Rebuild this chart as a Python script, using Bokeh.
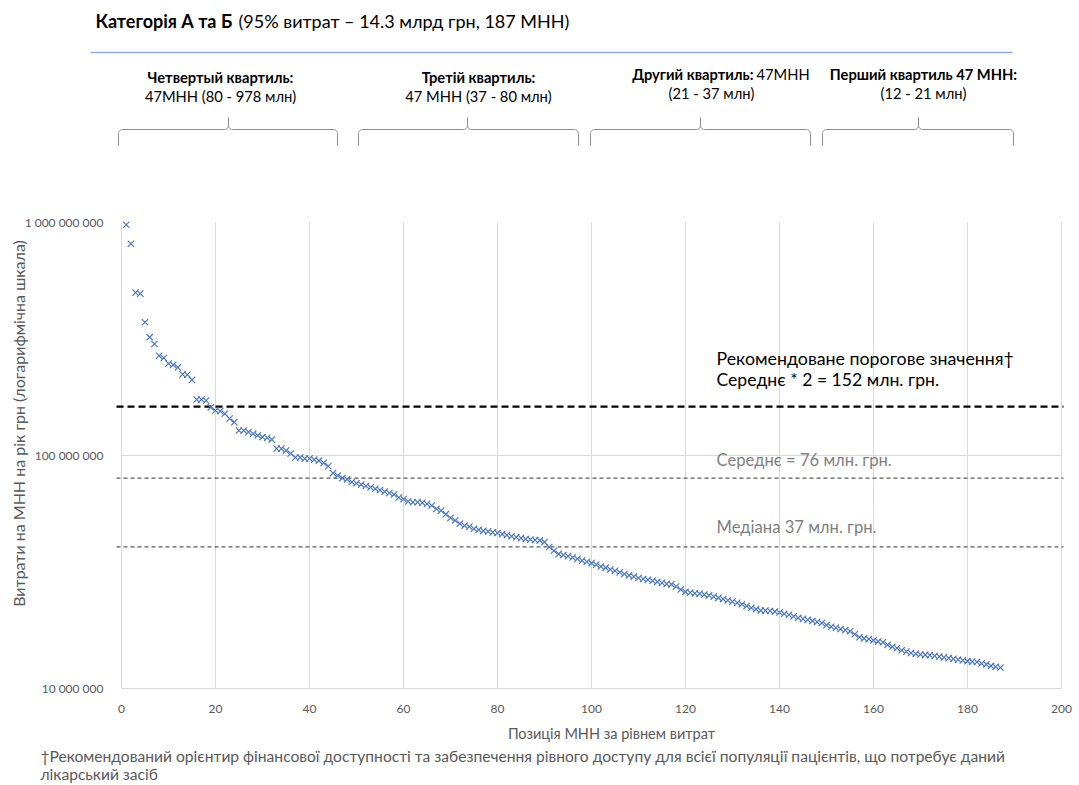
import numpy as np
from bokeh.plotting import figure
from bokeh.models import FixedTicker, CustomJSTickFormatter, Range1d
from bokeh.core.properties import value
from bokeh.embed import file_html
from bokeh.resources import INLINE

# ---------------- data ----------------
costs_mln = [
    978, 811, 500, 495, 373, 322, 301, 268, 262, 248,
    245, 239, 223, 222, 211, 174, 174, 172, 161, 156,
    155, 151, 144, 139, 128, 128, 126, 124, 122, 120,
    119, 117, 107, 107, 105, 102, 98, 98, 97, 97,
    96, 95, 93, 90, 84, 82, 80, 79, 77, 76,
    75, 74, 73, 72, 71, 70, 69, 68, 66, 65,
    63.5, 63, 63, 62.7, 62, 61, 59, 58, 56, 54,
    52.6, 51, 50, 49.5, 48.5, 48, 47.5, 47.2, 46.8, 46.5,
    46, 45.5, 45, 44.6, 44.2, 43.8, 43.6, 43.4, 43.2, 42.5,
    40.5, 39, 37.8, 37.4, 37, 36.5, 36, 35.4, 35, 34.5,
    34, 33.4, 33, 32.4, 32, 31.5, 31, 30.6, 30.2, 29.8,
    29.5, 29.3, 29, 28.7, 28.4, 28.1, 28, 27.4, 26.6, 26,
    25.8, 25.6, 25.5, 25.3, 25.1, 24.8, 24.5, 24.2, 23.9, 23.6,
    23.3, 23, 22.6, 22.2, 21.9, 21.6, 21.6, 21.5, 21.4, 21.2,
    20.9, 20.7, 20.4, 20.1, 19.9, 19.7, 19.5, 19.3, 19.1, 18.7,
    18.4, 18.2, 18, 17.8, 17.6, 17.1, 16.6, 16.4, 16.3, 16.1,
    15.9, 15.8, 15.4, 15.1, 14.9, 14.6, 14.4, 14.2, 14.1, 14,
    13.95, 13.9, 13.8, 13.7, 13.6, 13.5, 13.4, 13.3, 13.2, 13.1,
    13.05, 13, 12.8, 12.7, 12.5, 12.4, 12.3,
]
positions = list(range(1, len(costs_mln) + 1))

# reference lines (where the picture draws them, million UAH)
threshold_line_mln = 162
mean_line_mln = 80
median_line_mln = 40.5

x_ticks = [0, 20, 40, 60, 80, 100, 120, 140, 160, 180, 200]
y_ticks = [1e7, 1e8, 1e9]
x_min, x_max = 0, 200
y_min, y_max = 1e7, 1e9

title_bold = "Категорія А та Б"
title_rest = "(95% витрат – 14.3 млрд грн, 187 МНН)"
quart_bold = ["Четвертый квартиль:", "Третій квартиль:", "Другий квартиль:", "Перший квартиль 47 МНН:"]
quart_line2 = ["47МНН (80 - 978 млн)", "47 МНН (37 - 80 млн)", "(21 - 37 млн)", "(12 - 21 млн)"]
q2_rest = "47МНН"

FONT = "Lato"
GRAY = "#595959"
BLUE = "#4472C4"

# ---------------- geometry (page pixels -> data) ----------------
W, H = 1078, 784
PLOT_L, PLOT_R, PLOT_T, PLOT_B = 121, 1061, 222, 688
px_per_x = (PLOT_R - PLOT_L) / (x_max - x_min)
px_per_dec = (PLOT_B - PLOT_T) / np.log10(y_max / y_min)


def X(px):
    return x_min + (px - PLOT_L) / px_per_x


def Y(py):
    return 10 ** (np.log10(y_max) - (py - PLOT_T) / px_per_dec)


p = figure(width=W, height=H, x_range=Range1d(X(0), X(W)), y_range=Range1d(Y(H), Y(0)),
           y_axis_type="log", toolbar_location=None, output_backend="svg", min_border=0)
p.outline_line_color = None
p.grid.visible = False

# axes drawn at the edges of the data area
p.xaxis.fixed_location = y_min
p.yaxis.fixed_location = x_min
p.xaxis.bounds = (x_min, x_max)
p.yaxis.bounds = (y_min, y_max)
p.xaxis.ticker = FixedTicker(ticks=x_ticks)
p.yaxis.ticker = FixedTicker(ticks=y_ticks)
p.yaxis.formatter = CustomJSTickFormatter(
    code="return Math.round(tick).toString().replace(/\\B(?=(\\d{3})+(?!\\d))/g, ' ');")
for ax in (p.xaxis[0], p.yaxis[0]):
    ax.major_tick_line_color = None
    ax.minor_tick_line_color = None
    ax.major_label_text_font = FONT
    ax.major_label_text_font_size = "12px"
    ax.major_label_text_color = GRAY
p.xaxis.axis_line_color = "#D9D9D9"
p.yaxis.axis_line_color = None
p.xaxis.major_label_standoff = 10
p.yaxis.major_label_standoff = 12

# gridlines
p.segment(x0=x_ticks, x1=x_ticks, y0=[y_min] * len(x_ticks), y1=[y_max] * len(x_ticks),
          line_color="#D9D9D9", line_width=1)
p.segment(x0=[x_min], x1=[x_max], y0=[1e8], y1=[1e8], line_color="#D9D9D9", line_width=1)

# reference lines
p.segment(x0=[X(116)], x1=[X(1063)], y0=[threshold_line_mln * 1e6], y1=[threshold_line_mln * 1e6],
          line_color="#000000", line_width=2.3, line_dash="7 4")
p.segment(x0=[X(116), X(116)], x1=[X(1063), X(1063)],
          y0=[mean_line_mln * 1e6, median_line_mln * 1e6], y1=[mean_line_mln * 1e6, median_line_mln * 1e6],
          line_color=GRAY, line_width=1.3, line_dash="4 3")

cost_values = [c * 1e6 for c in costs_mln]
p.scatter(x=positions, y=cost_values, marker="x", size=9, line_color=BLUE, line_width=1.1)


def label(px, py, text, size, color="#000000", style="normal", align="left", angle=0.0):
    p.text(x=[X(px)], y=[Y(py)], text=[text], text_font=value(FONT), text_font_size=size,
           text_font_style=style, text_color=color, text_align=align,
           text_baseline="middle", angle=angle)


# annotations inside the chart
label(716, 357, "Рекомендоване порогове значення†", "17.8px")
label(716, 379, "Середнє * 2 = 152 млн. грн.", "17.6px")
label(716, 459, "Середнє = 76 млн. грн.", "16.6px", color="#7F7F7F")
label(716, 526, "Медіана 37 млн. грн.", "16.6px", color="#7F7F7F")

# axis titles
label(18, 423, "Витрати на МНН на рік грн (логарифмічна шкала)", "16px", color=GRAY,
      align="center", angle=np.pi / 2)
label(611, 733, "Позиція МНН за рівнем витрат", "14.5px", color=GRAY, align="center")

# footnote
label(40, 755, "†Рекомендований орієнтир фінансової доступності та забезпечення рівного доступу "
               "для всієї популяції пацієнтів, що потребує даний", "15.6px", color=GRAY)
label(40, 773, "лікарський засіб", "15.6px", color=GRAY)

# title block
label(95, 20, title_bold, "18px", style="bold")
label(238, 20, title_rest, "18px")
p.line(x=[X(90), X(1012)], y=[Y(52), Y(52)], line_color="#8FAADC", line_width=1.5)

q_cx = [220, 478, 711, 923]
q_y1 = [76, 76, 73, 73]
q_y2 = [95, 95, 92, 92]
for i, (cx, y1, y2, b, l2) in enumerate(zip(q_cx, q_y1, q_y2, quart_bold, quart_line2)):
    if i == 2:
        label(753, y1, b, "14.7px", style="bold", align="right")
        label(756, y1, q2_rest, "14.7px")
    else:
        label(cx, y1, b, "14.7px", style="bold", align="center")
    label(cx, y2, l2, "14.7px", align="center")


def brace_path(x0, x1, xm, ytop=117, ymid=129, ybot=145, r=4):
    xs, ys = [x0, x0], [ybot, ymid + r]
    t = np.linspace(np.pi, np.pi / 2, 8)
    xs += list(x0 + r + r * np.cos(t)); ys += list(ymid + r - r * np.sin(t))
    t = np.linspace(-np.pi / 2, 0, 8)
    xs += list(xm - r + r * np.cos(t)); ys += list(ymid - r - r * np.sin(t))
    xs += [xm]; ys += [ytop]
    t = np.linspace(-np.pi, -np.pi / 2, 8)
    xs += list(xm + r + r * np.cos(t)); ys += list(ymid - r - r * np.sin(t))
    t = np.linspace(np.pi / 2, 0, 8)
    xs += list(x1 - r + r * np.cos(t)); ys += list(ymid + r - r * np.sin(t))
    xs += [x1]; ys += [ybot]
    return xs, ys


brace_specs = [(118, 337, 228), (358, 578, 467), (590, 810, 700), (822, 1013, 918)]
bxs, bys = [], []
for x0, x1, xm in brace_specs:
    bx, by = brace_path(x0, x1, xm)
    bxs.append([X(v) for v in bx])
    bys.append([Y(v) for v in by])
p.multi_line(xs=bxs, ys=bys, line_color="#8C8C8C", line_width=1)

open("out.html", "w").write(file_html(p, INLINE))
